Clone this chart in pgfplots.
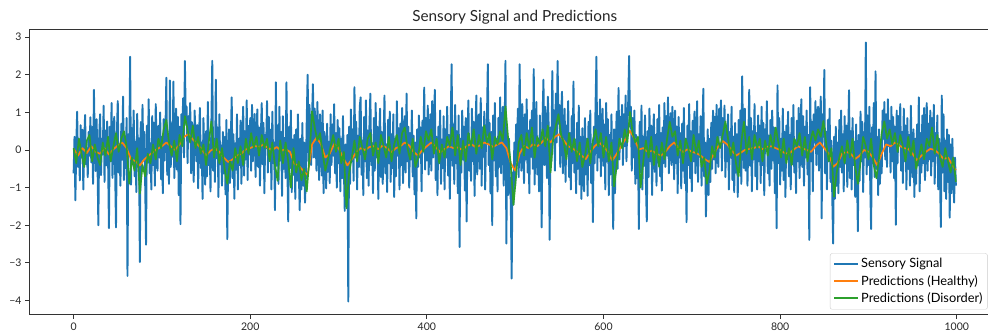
\documentclass[border=0pt]{standalone}
\usepackage{fontspec}
\setmainfont{Lato}
\usepackage{pgfplots}
\pgfplotsset{compat=1.18}
\usepackage{pgfplotstable}
\definecolor{tabblue}{HTML}{1F77B4}
\definecolor{taborange}{HTML}{FF7F0E}
\definecolor{tabgreen}{HTML}{2CA02C}

% Sensory signal, one value per index 0..999
\pgfplotstableread[row sep=\\, header=false]{
-0.62\\ 0.35\\ -1.34\\ 0.12\\ 1.02\\ -0.45\\ 0.28\\ -0.81\\ 0.66\\ -0.20\\
0.54\\ -1.05\\ 0.21\\ 0.93\\ -0.38\\ 0.05\\ -0.72\\ 0.48\\ -0.15\\ 0.87\\
-0.33\\ 0.61\\ -0.90\\ 1.60\\ 0.14\\ -0.56\\ 0.82\\ -0.24\\ -2.00\\ 0.40\\
0.95\\ -0.67\\ 0.30\\ -0.12\\ 1.18\\ -0.85\\ 0.52\\ -0.41\\ 0.76\\ -0.18\\
-2.08\\ 0.62\\ -0.30\\ 1.25\\ -0.74\\ 0.19\\ 0.88\\ -0.52\\ -2.06\\ 0.45\\
1.30\\ -0.60\\ 0.11\\ -0.95\\ 0.70\\ -0.26\\ 1.42\\ -0.80\\ 0.36\\ -0.48\\
0.85\\ -3.35\\ 0.42\\ -0.15\\ 2.48\\ -0.92\\ 0.58\\ -0.38\\ 1.05\\ -0.70\\
0.22\\ -1.12\\ 0.96\\ -0.44\\ 0.31\\ -2.98\\ 0.74\\ -0.58\\ 1.20\\ -0.25\\
0.48\\ -0.86\\ -2.52\\ 0.65\\ -0.33\\ 1.35\\ -0.62\\ 0.18\\ -1.05\\ 0.90\\
-0.40\\ 0.72\\ -0.95\\ 1.22\\ 0.08\\ -0.55\\ 0.64\\ -0.20\\ 1.00\\ -0.78\\
0.35\\ -1.15\\ 0.82\\ -0.28\\ 0.55\\ 1.92\\ -0.66\\ 0.40\\ -0.90\\ 1.85\\
-0.45\\ 0.70\\ -0.18\\ 1.82\\ -0.75\\ 0.25\\ 1.10\\ -0.52\\ 0.88\\ -1.20\\
0.62\\ -1.97\\ 0.95\\ 0.30\\ 1.38\\ -0.20\\ 2.37\\ 0.80\\ 1.15\\ -0.35\\
0.90\\ 0.28\\ 1.25\\ -0.62\\ 0.74\\ 0.10\\ -0.85\\ 1.05\\ 0.42\\ -0.30\\
0.66\\ -1.02\\ 0.38\\ 1.12\\ -0.48\\ 0.20\\ -1.30\\ 0.85\\ -0.15\\ -0.92\\
0.50\\ -0.70\\ 1.28\\ -0.40\\ 0.15\\ -1.10\\ 0.72\\ 2.37\\ -0.55\\ 0.30\\
-0.85\\ 1.87\\ -0.22\\ 0.60\\ -1.25\\ 0.95\\ -0.38\\ 0.12\\ -0.95\\ 0.48\\
-0.62\\ 0.35\\ -1.18\\ 0.80\\ -2.37\\ -0.20\\ 0.55\\ -0.88\\ 0.28\\ 1.40\\
-0.75\\ 0.42\\ -1.30\\ 0.18\\ -0.52\\ 0.95\\ -1.05\\ 0.30\\ -0.40\\ 0.78\\
-0.90\\ 0.22\\ 1.15\\ -0.68\\ 0.50\\ -0.25\\ 1.32\\ -0.80\\ 0.64\\ -0.12\\
0.85\\ -0.55\\ 1.20\\ -0.30\\ 0.45\\ 0.96\\ -0.72\\ 0.28\\ 1.08\\ -0.45\\
0.60\\ -0.95\\ 0.35\\ 1.25\\ -0.38\\ 0.72\\ -1.15\\ 0.40\\ 0.05\\ 1.30\\
-0.60\\ 0.88\\ -0.22\\ 0.54\\ -1.05\\ 1.02\\ -0.35\\ 0.20\\ -1.60\\ 1.80\\
-0.42\\ 0.65\\ -0.90\\ 1.15\\ -0.28\\ 0.48\\ -1.22\\ 0.90\\ -0.50\\ 0.32\\
-0.75\\ 1.80\\ -0.35\\ -1.90\\ 0.62\\ -0.48\\ 1.05\\ -1.12\\ 0.28\\ -0.66\\
0.40\\ -1.30\\ 0.55\\ -0.82\\ 0.95\\ -0.60\\ -1.60\\ 0.30\\ -1.05\\ 0.72\\
-0.95\\ 0.20\\ -1.40\\ -0.70\\ 0.85\\ 2.00\\ -0.30\\ 1.20\\ 0.65\\ -0.40\\
0.90\\ 1.75\\ -0.20\\ 1.10\\ 0.42\\ -0.55\\ 1.28\\ 0.15\\ -0.80\\ 0.95\\
0.30\\ -0.68\\ 1.05\\ -1.15\\ 0.48\\ -0.25\\ -1.02\\ 0.70\\ -0.58\\ 0.22\\
-0.88\\ 0.95\\ -0.40\\ 0.68\\ -0.15\\ 1.22\\ -0.62\\ 0.45\\ -1.00\\ 0.80\\
-0.35\\ 0.58\\ -1.10\\ 0.30\\ -0.75\\ 0.90\\ -0.48\\ -1.62\\ 0.15\\ -1.28\\
0.40\\ -4.03\\ 0.62\\ -0.90\\ 1.08\\ -0.30\\ 0.55\\ -0.82\\ 1.67\\ -0.20\\
0.75\\ -1.05\\ 0.38\\ -0.45\\ 1.15\\ 1.40\\ -0.66\\ 0.25\\ -1.20\\ 0.88\\
-0.30\\ 1.32\\ -0.75\\ 0.52\\ -0.95\\ 0.70\\ 1.50\\ -0.40\\ 0.18\\ -1.15\\
0.85\\ -0.55\\ 1.25\\ -0.20\\ 0.62\\ -1.30\\ 0.35\\ 1.10\\ -0.72\\ 0.48\\
-0.90\\ 0.28\\ 1.45\\ -0.62\\ 0.15\\ -1.12\\ 0.80\\ -0.35\\ 1.02\\ -0.85\\
0.42\\ -0.48\\ 0.95\\ -1.25\\ 0.30\\ -0.70\\ 1.30\\ -0.15\\ 0.58\\ -1.05\\
0.70\\ -0.40\\ 1.12\\ -0.88\\ 0.25\\ 0.90\\ -0.60\\ 1.50\\ -0.30\\ 0.62\\
-1.00\\ 0.45\\ -0.25\\ 1.05\\ -0.70\\ 0.38\\ -1.18\\ 0.20\\ -1.82\\ 0.55\\
-0.45\\ 0.92\\ -0.20\\ 0.60\\ -1.10\\ 0.78\\ 0.10\\ 1.66\\ -0.52\\ 0.85\\
-0.28\\ 1.18\\ -0.65\\ 0.40\\ 0.95\\ -0.55\\ 1.30\\ -0.20\\ 0.72\\ 1.60\\
-0.80\\ 0.35\\ -1.20\\ 0.62\\ -0.35\\ 1.05\\ -0.90\\ 0.28\\ -0.48\\ 0.90\\
-1.05\\ 0.55\\ -0.20\\ 1.15\\ -0.68\\ 0.40\\ -1.30\\ 0.75\\ 2.28\\ -0.42\\
0.68\\ -0.90\\ 1.20\\ -0.35\\ 0.50\\ -1.15\\ 0.92\\ -2.58\\ 0.30\\ -0.60\\
1.05\\ -0.25\\ 0.62\\ -1.08\\ 0.85\\ -1.90\\ 0.40\\ 1.32\\ -0.55\\ 0.18\\
-0.82\\ 1.10\\ -0.30\\ 0.75\\ -1.22\\ 0.48\\ 1.45\\ -0.65\\ 0.22\\ 0.95\\
-0.50\\ 1.38\\ -0.95\\ 0.60\\ -0.18\\ 1.02\\ -1.05\\ 0.35\\ 0.80\\ 2.28\\
-0.40\\ 0.72\\ -1.15\\ 0.48\\ -2.00\\ 0.92\\ -0.28\\ 1.25\\ -0.70\\ 0.30\\
-1.10\\ 0.85\\ -0.45\\ 1.40\\ -0.62\\ 0.20\\ 1.15\\ -0.95\\ 0.55\\ 2.37\\
-2.49\\ 0.45\\ -1.20\\ 0.30\\ -0.85\\ -1.35\\ -3.42\\ -0.60\\ -1.45\\ 0.20\\
-0.95\\ 0.68\\ -0.30\\ 1.10\\ -0.72\\ 2.28\\ 0.40\\ -0.55\\ 1.22\\ 0.15\\
-0.88\\ 0.95\\ -0.25\\ 1.35\\ -0.60\\ 0.52\\ -1.15\\ 0.80\\ -0.18\\ 1.05\\
-0.50\\ 2.15\\ -0.92\\ 0.48\\ 1.28\\ -0.65\\ 0.30\\ -1.10\\ 0.92\\ -0.35\\
-2.06\\ 0.85\\ 1.87\\ -0.40\\ 1.15\\ 0.22\\ -0.75\\ 1.42\\ 0.55\\ -2.39\\
0.60\\ -0.30\\ 2.10\\ 0.35\\ 1.05\\ -0.55\\ 1.50\\ 0.20\\ 2.37\\ 0.70\\
1.20\\ -0.45\\ 0.88\\ 1.55\\ -0.62\\ 0.40\\ 1.10\\ -0.85\\ 0.65\\ 0.05\\
1.30\\ -0.72\\ 0.45\\ -1.05\\ 0.90\\ -0.35\\ 1.82\\ -0.60\\ 0.28\\ -1.15\\
0.72\\ -0.50\\ 1.18\\ -0.92\\ 0.35\\ -1.30\\ 0.58\\ -0.20\\ -1.10\\ 0.85\\
-0.65\\ 0.30\\ -1.22\\ 0.75\\ -0.40\\ 1.05\\ -0.88\\ 0.15\\ -1.92\\ 0.62\\
-0.35\\ 1.20\\ 2.48\\ -0.55\\ 0.90\\ -0.20\\ 1.35\\ -0.70\\ 0.48\\ 1.10\\
-0.42\\ 0.68\\ -1.05\\ 1.25\\ -0.30\\ 0.82\\ -1.20\\ 0.40\\ -0.65\\ 0.95\\
-0.80\\ -2.10\\ 0.55\\ -1.15\\ 0.30\\ 1.02\\ -0.50\\ 1.65\\ -0.25\\ 0.88\\
0.35\\ 1.20\\ -0.40\\ 0.95\\ 0.10\\ 1.45\\ -0.30\\ 0.80\\ 1.30\\ 2.50\\
0.62\\ 1.15\\ -0.55\\ 0.85\\ -0.20\\ 1.05\\ -0.90\\ 0.40\\ -0.75\\ 0.22\\
-2.10\\ 0.75\\ -0.60\\ 1.18\\ -1.05\\ 0.35\\ -0.42\\ 0.92\\ -0.85\\ -1.90\\
0.50\\ -0.72\\ 1.10\\ -0.30\\ 0.65\\ -1.20\\ 0.28\\ 0.95\\ -0.58\\ 0.40\\
-0.95\\ 0.82\\ -0.25\\ 1.20\\ -0.70\\ 0.45\\ -1.08\\ 0.60\\ -0.35\\ 1.25\\
-0.45\\ 0.90\\ -0.15\\ 1.40\\ -0.62\\ 0.55\\ 0.98\\ -0.40\\ 1.15\\ 0.30\\
-0.78\\ 1.05\\ -0.35\\ 0.62\\ -1.15\\ 0.88\\ -0.20\\ 0.45\\ -1.02\\ 0.70\\
-0.55\\ 1.12\\ -0.88\\ 0.30\\ -1.92\\ 0.65\\ -0.40\\ 1.22\\ -0.75\\ 0.50\\
-1.10\\ 0.78\\ -0.30\\ 1.02\\ -0.62\\ 0.25\\ 1.30\\ -0.85\\ 0.42\\ -0.18\\
0.90\\ -0.95\\ 0.35\\ 1.63\\ -0.70\\ 0.20\\ -1.77\\ -0.40\\ 0.55\\ -1.20\\
0.30\\ -0.85\\ 0.72\\ -0.50\\ 1.05\\ -0.25\\ 0.88\\ -0.62\\ 1.20\\ 0.15\\
-0.45\\ 1.10\\ 0.40\\ 1.32\\ -0.55\\ 0.85\\ 0.20\\ 1.18\\ -0.72\\ 0.60\\
-0.30\\ 0.95\\ -1.05\\ 0.48\\ -0.20\\ 1.15\\ -0.80\\ 0.35\\ -1.12\\ 0.72\\
-0.60\\ 0.42\\ -1.25\\ 0.80\\ -0.35\\ 1.05\\ -0.90\\ 1.96\\ 0.25\\ -0.48\\
1.10\\ -0.55\\ 0.62\\ -0.95\\ 0.30\\ 1.60\\ -0.42\\ 0.85\\ -1.10\\ 0.50\\
-0.25\\ 1.22\\ -0.70\\ 0.45\\ -1.05\\ 0.92\\ -0.30\\ 0.65\\ -0.88\\ 1.15\\
-0.40\\ 0.72\\ -1.20\\ 0.55\\ 0.10\\ 1.30\\ -0.62\\ 0.38\\ -0.95\\ 0.80\\
-0.50\\ 1.05\\ -0.28\\ 0.60\\ -1.15\\ 0.42\\ -2.08\\ 1.72\\ -0.35\\ 0.85\\
-0.92\\ 0.30\\ -0.55\\ 1.10\\ -0.80\\ 0.48\\ -1.25\\ 0.65\\ -0.20\\ 1.02\\
-0.70\\ 0.40\\ -1.05\\ 0.85\\ -0.38\\ 1.20\\ -0.60\\ 0.25\\ -1.15\\ 0.78\\
-0.30\\ 1.12\\ -0.75\\ 0.52\\ 1.35\\ -0.45\\ 0.90\\ -0.95\\ 0.62\\ -0.20\\
1.05\\ -0.65\\ 0.40\\ -2.39\\ 1.67\\ -0.30\\ 0.75\\ -1.10\\ 0.95\\ 0.20\\
1.30\\ -0.40\\ 0.85\\ 1.15\\ -0.55\\ 0.60\\ 1.42\\ -1.82\\ 0.95\\ 0.35\\
2.13\\ -0.62\\ 0.48\\ -1.05\\ 0.80\\ -0.30\\ 1.10\\ -0.85\\ 0.25\\ -1.20\\
-2.49\\ 0.35\\ -1.30\\ 0.62\\ -0.95\\ 0.20\\ -1.15\\ 0.80\\ -0.45\\ 1.05\\
-0.60\\ 0.42\\ -1.10\\ 0.90\\ -0.35\\ 0.65\\ -0.98\\ 0.28\\ 1.59\\ -0.75\\
0.50\\ -1.05\\ 0.85\\ -0.40\\ 0.22\\ -1.25\\ 0.68\\ -0.55\\ -2.16\\ 0.40\\
-0.82\\ 1.02\\ -0.30\\ 0.75\\ -1.12\\ 0.48\\ -0.20\\ 2.86\\ -0.65\\ 0.92\\
-0.40\\ 1.15\\ -0.88\\ -2.10\\ 0.60\\ -0.35\\ 1.25\\ -0.72\\ 2.09\\ -0.50\\
0.35\\ -1.20\\ 0.55\\ -0.90\\ 0.25\\ -0.62\\ 1.05\\ 0.30\\ 1.28\\ -0.25\\
0.95\\ -0.45\\ 1.35\\ 0.10\\ 0.78\\ -0.60\\ 1.15\\ -0.30\\ 0.88\\ -0.75\\
0.62\\ -1.99\\ 1.05\\ -0.35\\ 0.90\\ 0.20\\ 1.22\\ -0.55\\ 0.48\\ -0.88\\
1.10\\ -0.30\\ 0.65\\ -1.05\\ 0.85\\ -0.50\\ 0.40\\ -0.95\\ 1.18\\ -0.20\\
-0.72\\ 0.55\\ -1.25\\ 0.30\\ -0.90\\ 0.68\\ -0.40\\ 1.40\\ -1.10\\ 0.45\\
-0.60\\ 0.92\\ -0.35\\ 1.12\\ -0.80\\ 0.38\\ 1.25\\ -0.55\\ 0.70\\ -0.25\\
1.05\\ -0.68\\ 0.85\\ -0.30\\ 1.20\\ -0.90\\ 0.45\\ -0.15\\ 0.92\\ -1.05\\
0.30\\ -0.75\\ -2.05\\ 1.45\\ -0.60\\ 0.95\\ -1.10\\ 0.25\\ -1.30\\ 0.55\\
-0.85\\ 0.40\\ -1.80\\ 0.15\\ -1.15\\ 0.30\\ -0.72\\ -1.40\\ -0.20\\ -0.95\\
}\bluedata

% Predictions (Healthy): x y
\pgfplotstableread[row sep=\\]{
x y\\
0 0.03\\ 5 -0.15\\ 10 0.05\\ 15 -0.08\\ 20 0.10\\ 25 -0.05\\ 30 -0.10\\ 35 0.05\\ 40 -0.12\\ 45 0.02\\
50 0.12\\ 55 0.20\\ 60 0.05\\ 65 -0.24\\ 70 -0.30\\ 75 -0.41\\ 80 -0.25\\ 85 -0.15\\ 90 -0.05\\ 95 0.03\\
100 0.10\\ 105 0.20\\ 110 0.10\\ 115 0.00\\ 120 0.15\\ 125 0.35\\ 130 0.42\\ 135 0.28\\ 140 0.16\\ 145 0.02\\
150 -0.15\\ 155 -0.02\\ 160 0.05\\ 165 -0.05\\ 170 -0.20\\ 175 -0.32\\ 180 -0.25\\ 185 -0.15\\ 190 -0.10\\ 195 0.02\\
200 0.05\\ 205 0.11\\ 210 0.08\\ 215 0.15\\ 220 0.05\\ 225 0.00\\ 230 0.08\\ 235 -0.02\\ 240 0.02\\ 245 -0.05\\
250 -0.37\\ 255 -0.42\\ 260 -0.55\\ 265 -0.67\\ 270 0.15\\ 275 0.33\\ 280 0.16\\ 285 -0.20\\ 290 -0.10\\ 295 0.16\\
300 0.05\\ 305 -0.20\\ 310 -0.41\\ 315 -0.25\\ 320 -0.06\\ 325 0.05\\ 330 0.00\\ 335 0.08\\ 340 0.10\\ 345 0.02\\
350 0.12\\ 355 0.05\\ 360 -0.06\\ 365 0.05\\ 370 0.10\\ 375 0.20\\ 380 0.12\\ 385 -0.05\\ 390 -0.15\\ 395 0.00\\
400 0.10\\ 405 0.20\\ 410 0.08\\ 415 -0.06\\ 420 0.02\\ 425 0.10\\ 430 0.05\\ 435 0.07\\ 440 0.00\\ 445 0.10\\
450 0.16\\ 455 0.08\\ 460 0.12\\ 465 0.20\\ 470 0.15\\ 475 0.08\\ 480 0.15\\ 485 0.20\\ 490 0.05\\ 495 -0.35\\
500 -0.55\\ 505 -0.10\\ 510 0.11\\ 515 0.05\\ 520 0.15\\ 525 0.10\\ 530 0.20\\ 535 0.33\\ 540 0.20\\ 545 0.35\\
550 0.42\\ 555 0.25\\ 560 0.10\\ 565 0.05\\ 570 -0.05\\ 575 -0.15\\ 580 -0.24\\ 585 -0.05\\ 590 0.10\\ 595 0.20\\
600 0.10\\ 605 -0.05\\ 610 -0.28\\ 615 -0.10\\ 620 0.10\\ 625 0.30\\ 630 0.51\\ 635 0.30\\ 640 0.01\\ 645 0.05\\
650 -0.05\\ 655 -0.02\\ 660 -0.10\\ 665 -0.15\\ 670 -0.05\\ 675 0.10\\ 680 0.20\\ 685 0.05\\ 690 -0.06\\ 695 0.02\\
700 -0.05\\ 705 -0.08\\ 710 -0.15\\ 715 -0.25\\ 720 -0.32\\ 725 -0.10\\ 730 0.10\\ 735 0.24\\ 740 0.15\\ 745 0.00\\
750 -0.15\\ 755 -0.08\\ 760 0.00\\ 765 0.03\\ 770 0.05\\ 775 0.10\\ 780 0.02\\ 785 0.08\\ 790 0.10\\ 795 0.05\\
800 0.00\\ 805 -0.08\\ 810 -0.10\\ 815 0.00\\ 820 0.10\\ 825 0.05\\ 830 0.00\\ 835 -0.05\\ 840 0.10\\ 845 0.20\\
850 0.05\\ 855 -0.10\\ 860 -0.45\\ 865 -0.35\\ 870 -0.10\\ 875 -0.05\\ 880 -0.10\\ 885 -0.24\\ 890 -0.15\\ 895 0.00\\
900 -0.05\\ 905 -0.20\\ 910 -0.41\\ 915 -0.10\\ 920 0.15\\ 925 0.10\\ 930 0.20\\ 935 0.12\\ 940 0.05\\ 945 0.03\\
950 -0.10\\ 955 -0.28\\ 960 -0.15\\ 965 -0.05\\ 970 0.03\\ 975 0.00\\ 980 -0.10\\ 985 -0.24\\ 990 -0.20\\ 995 -0.40\\
999 -0.54\\
}\healthydata

% Predictions (Disorder), every 3rd index 0..999
\pgfplotstableread[row sep=\\, header=false]{
0.05\\ -0.35\\ 0.30\\ -0.10\\ -0.45\\ 0.25\\ 0.40\\ -0.30\\ 0.15\\ -0.20\\
-0.40\\ 0.20\\ -0.15\\ 0.35\\ -0.30\\ 0.10\\ 0.45\\ -0.05\\ 0.30\\ 0.50\\
0.10\\ -0.90\\ -0.20\\ -0.55\\ 0.05\\ -1.16\\ -0.40\\ -0.70\\ -0.10\\ -0.35\\
0.15\\ -0.25\\ 0.30\\ 0.05\\ 0.55\\ 0.80\\ 0.20\\ -0.15\\ 0.25\\ -0.30\\
0.40\\ 0.10\\ 0.90\\ 0.55\\ 0.20\\ 0.65\\ 0.05\\ 0.35\\ -0.10\\ 0.15\\
-0.40\\ 0.20\\ 0.76\\ -0.20\\ 0.30\\ -0.35\\ 0.05\\ -0.50\\ -0.90\\ -0.30\\
-0.55\\ 0.05\\ -0.35\\ 0.10\\ -0.40\\ 0.30\\ -0.10\\ 0.45\\ 0.05\\ 0.35\\
-0.15\\ 0.40\\ 0.05\\ 0.30\\ -0.30\\ 0.20\\ -0.40\\ -0.82\\ 0.25\\ -0.35\\
0.20\\ -0.30\\ -1.00\\ 0.05\\ -0.60\\ -0.30\\ -0.80\\ -0.50\\ -1.10\\ -0.20\\
1.03\\ 0.60\\ 0.25\\ 0.45\\ -0.10\\ -0.55\\ -0.25\\ 0.10\\ 0.40\\ -0.05\\
0.30\\ -0.35\\ -0.05\\ -1.55\\ -0.60\\ -0.20\\ 0.25\\ -0.30\\ 0.35\\ 0.05\\
-0.25\\ 0.30\\ 0.45\\ -0.15\\ 0.20\\ -0.35\\ 0.40\\ 0.10\\ -0.20\\ 0.35\\
-0.30\\ 0.15\\ 0.40\\ -0.10\\ 0.45\\ 0.60\\ 0.05\\ -0.25\\ 0.30\\ -0.45\\
-0.20\\ 0.35\\ -0.05\\ 0.50\\ 0.25\\ 0.55\\ -0.10\\ 0.30\\ -0.35\\ 0.15\\
-0.20\\ 0.35\\ 0.10\\ 0.60\\ -0.15\\ 0.40\\ -0.40\\ 0.25\\ -0.30\\ 0.45\\
0.10\\ 0.55\\ -0.10\\ 0.40\\ 0.05\\ 0.65\\ 0.20\\ 0.45\\ -0.25\\ 0.35\\
0.15\\ 0.50\\ 0.25\\ 1.16\\ 0.30\\ -0.40\\ -1.46\\ -0.70\\ 0.20\\ 0.40\\
-0.15\\ 0.45\\ 0.05\\ 0.60\\ -0.20\\ 0.35\\ 0.15\\ 0.55\\ 0.10\\ 0.65\\
-0.60\\ 0.30\\ 0.65\\ 0.95\\ 0.40\\ 0.20\\ -0.25\\ 0.45\\ -0.05\\ 0.30\\
-0.30\\ 0.20\\ -0.45\\ -0.15\\ 0.30\\ -0.35\\ 0.25\\ 0.55\\ 0.10\\ 0.45\\
-0.20\\ 0.35\\ -0.30\\ 0.20\\ -0.97\\ -0.40\\ 0.30\\ 0.05\\ 0.55\\ 0.20\\
1.01\\ 0.45\\ 0.20\\ 0.35\\ -1.00\\ -0.30\\ 0.25\\ -0.20\\ 0.35\\ -0.40\\
0.10\\ -0.45\\ 0.20\\ -0.25\\ 0.30\\ 0.75\\ 0.35\\ 0.50\\ -0.15\\ 0.25\\
-0.35\\ 0.30\\ 0.05\\ -0.30\\ 0.40\\ -0.10\\ 0.25\\ -0.45\\ -0.20\\ -0.90\\
-0.55\\ 0.10\\ -0.20\\ 0.35\\ 0.05\\ 0.40\\ 0.76\\ 0.30\\ -0.15\\ 0.20\\
-0.35\\ -0.70\\ 0.20\\ 0.75\\ -0.10\\ 0.35\\ -0.25\\ 0.40\\ 0.05\\ 0.30\\
-0.30\\ 0.25\\ -0.15\\ 0.40\\ 0.05\\ 0.60\\ 0.20\\ -0.20\\ 0.30\\ -0.35\\
0.05\\ -0.40\\ 0.30\\ 0.10\\ 0.45\\ -0.15\\ 0.35\\ -0.30\\ 0.20\\ 0.50\\
0.25\\ 0.55\\ 0.35\\ 0.77\\ 0.20\\ -0.30\\ 0.05\\ -1.24\\ -0.60\\ -0.20\\
0.10\\ -0.35\\ 0.25\\ -0.20\\ 0.30\\ -0.45\\ -0.90\\ -0.30\\ 0.35\\ 0.10\\
-0.25\\ 0.30\\ -0.40\\ -0.75\\ -0.20\\ 0.45\\ 0.76\\ 0.30\\ 0.55\\ 0.15\\
0.45\\ -0.05\\ 0.40\\ 0.10\\ -0.30\\ 0.35\\ -0.15\\ 0.25\\ -0.50\\ -0.20\\
0.15\\ -0.25\\ 0.30\\ 0.10\\ 0.60\\ -0.10\\ 0.40\\ -0.20\\ -0.45\\ 0.05\\
-0.30\\ -0.60\\ -0.20\\ -0.85\\
}\disorderdata

\begin{document}
\begin{tikzpicture}
\useasboundingbox (0,0) rectangle (988pt,334pt);
\begin{axis}[
  at={(29.5pt,19.5pt)}, anchor=south west,
  scale only axis, width=970.5pt, height=285pt,
  xmin=-49.95, xmax=1048.95, ymin=-4.3745, ymax=3.2045,
  axis line style={black!80, line width=0.8pt},
  tick style={black!80, line width=0.8pt},
  tick align=outside, tick pos=left, major tick length=4.5pt,
  xtick={0,200,400,600,800,1000}, xticklabels={0,200,400,600,800,1000},
  ytick={-4,-3,-2,-1,0,1,2,3}, yticklabels={−4,−3,−2,−1,0,1,2,3},
  ticklabel style={font=\fontsize{10.5}{12}\selectfont, text=black!85},
  title={Sensory Signal and Predictions},
  title style={at={(0.5,1)}, anchor=base, yshift=1.5pt, inner sep=0pt,
    font=\fontsize{15.3}{18}\selectfont, text=black!85},
  legend style={at={(rel axis cs:0.8248,0)}, anchor=south west, yshift=5pt,
    draw=black!20, rounded corners=2pt, fill=white, fill opacity=0.8,
    text opacity=1, font=\fontsize{12.8}{15}\selectfont,
    inner xsep=3pt, inner ysep=3pt, row sep=2pt,
    nodes={inner sep=2pt}},
  legend cell align=left,
  legend image code/.code={\draw[#1, line width=2pt, draw opacity=1] (0pt,0.4pt) -- (24pt,0.4pt);},
]
\addlegendimage{tabblue}
\addlegendentry{Sensory Signal}
\addlegendimage{taborange}
\addlegendentry{Predictions (Healthy)}
\addlegendimage{tabgreen}
\addlegendentry{Predictions (Disorder)}
\addplot[tabblue, line width=1.9pt, line join=round, forget plot] table[x expr=\coordindex, y index=0] {\bluedata};
\addplot[taborange, line width=1.7pt, line join=round, forget plot] table[x=x, y=y] {\healthydata};
\addplot[tabgreen, line width=1.7pt, line join=round, forget plot] table[x expr=3*\coordindex, y index=0] {\disorderdata};
\end{axis}
\end{tikzpicture}
\end{document}
